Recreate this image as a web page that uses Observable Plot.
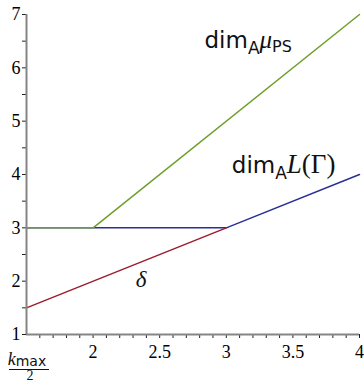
<!DOCTYPE html>
<html><head><meta charset="utf-8">
<script src="https://cdn.jsdelivr.net/npm/d3@7"></script>
<script src="https://cdn.jsdelivr.net/npm/@observablehq/plot@0.6"></script>
<style>body{margin:0;background:#fff}</style>
</head><body><div id="chart"></div>
<script>
const xTicks = [2, 2.5, 3, 3.5, 4];
const yTicks = [1, 2, 3, 4, 5, 6, 7];
const greenX = [1.5, 2, 4];
const greenY = [3, 3, 7];
const blueX = [1.5, 3, 4];
const blueY = [3, 3, 4];
const redX = [1.5, 3];
const redY = [1.5, 3];

const pts = (xs, ys) => xs.map((x, i) => ({x, y: ys[i]}));
const xMinor = d3.range(16, 40).map(d => d / 10).filter(d => !xTicks.includes(d));
const yMinor = d3.range(1.5, 7, 1);

const chart = Plot.plot({
  width: 364, height: 381,
  marginLeft: 26, marginRight: 5, marginTop: 14, marginBottom: 47,
  x: {domain: [1.5, 4], label: null},
  y: {domain: [1, 7], label: null},
  style: {fontFamily: "'Liberation Serif', serif", fontSize: "18px", color: "#000", background: "#fff"},
  marks: [
    Plot.axisX(xMinor, {tickSize: 4, tickFormat: () => "", stroke: "#222", label: null}),
    Plot.axisX(xTicks, {tickSize: 4, tickPadding: 7, stroke: "#222", fontSize: 18, tickFormat: d => String(d), label: null}),
    Plot.axisY(yMinor, {tickSize: 4, tickFormat: () => "", stroke: "#222", label: null}),
    Plot.axisY(yTicks, {tickSize: 4, tickPadding: 2, stroke: "#222", fontSize: 18, tickFormat: d => String(d), label: null}),
    Plot.line(pts(blueX, blueY), {x: "x", y: "y", stroke: "#2a2f96", strokeWidth: 1.5}),
    Plot.line(pts(redX, redY), {x: "x", y: "y", stroke: "#9b1c2e", strokeWidth: 1.5}),
    Plot.line(pts(greenX, greenY), {x: "x", y: "y", stroke: "#6f9e2c", strokeWidth: 1.5}),
    Plot.ruleX([1.5], {stroke: "#858585", strokeWidth: 2}),
    Plot.ruleY([1], {stroke: "#858585", strokeWidth: 2})
  ]
});
document.getElementById("chart").append(chart);

const sx = chart.scale("x"), sy = chart.scale("y");
const svg = d3.select(chart);
const sans = "'DejaVu Sans', sans-serif";
const serif = "'Liberation Serif', serif";

// dim_A mu_PS
let t = svg.append("text").attr("x", sx.apply(2.84)).attr("y", sy.apply(6.37)).attr("text-anchor", "start")
  .attr("font-family", sans).attr("font-size", 23).attr("fill", "#111");
t.append("tspan").text("dim");
t.append("tspan").attr("font-size", 17).attr("dy", 6).text("A");
t.append("tspan").attr("font-family", serif).attr("font-style", "italic").attr("font-size", 25).attr("dy", -6).text("μ");
t.append("tspan").attr("font-size", 16).attr("dy", 4).text("PS");

// dim_A L(Gamma)
t = svg.append("text").attr("x", sx.apply(3.045)).attr("y", sy.apply(4.02)).attr("text-anchor", "start")
  .attr("font-family", sans).attr("font-size", 23).attr("fill", "#111");
t.append("tspan").text("dim");
t.append("tspan").attr("font-size", 17).attr("dy", 6).text("A");
t.append("tspan").attr("font-family", serif).attr("font-style", "italic").attr("font-size", 27).attr("dy", -6).text("L");
t.append("tspan").attr("font-family", serif).attr("font-size", 27).text("(Γ)");

// delta
svg.append("text").attr("x", sx.apply(2.365)).attr("y", sy.apply(1.88)).attr("text-anchor", "middle")
  .attr("font-family", serif).attr("font-style", "italic").attr("font-size", 23).attr("fill", "#111").text("δ");

// fraction k_max / 2
const fx = sx.apply(1.5) + 2, fy = sy.apply(1);
t = svg.append("text").attr("x", fx - 1).attr("y", fy + 31).attr("text-anchor", "middle")
  .attr("font-family", serif).attr("font-size", 18).attr("fill", "#111");
t.append("tspan").attr("font-style", "italic").text("k");
t.append("tspan").attr("font-family", sans).attr("font-size", 14).attr("dy", 1).text("max");
svg.append("line").attr("x1", fx - 19).attr("x2", fx + 21).attr("y1", fy + 35.5).attr("y2", fy + 35.5)
  .attr("stroke", "#111").attr("stroke-width", 1);
svg.append("text").attr("x", fx + 2).attr("y", fy + 45.5).attr("text-anchor", "middle")
  .attr("font-family", serif).attr("font-size", 14).attr("fill", "#111").text("2");
</script>
</body></html>
